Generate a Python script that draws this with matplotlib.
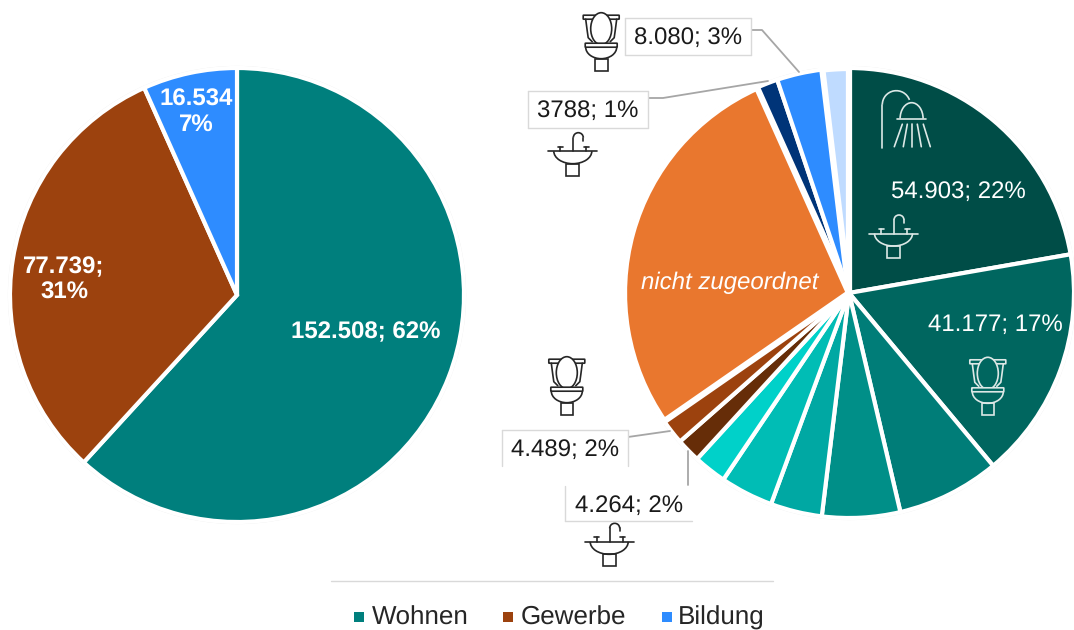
import matplotlib
matplotlib.use('Agg')
import numpy as np
import matplotlib.pyplot as plt
from matplotlib.patches import Arc, Circle, Ellipse, Rectangle, FancyBboxPatch

plt.rcParams['font.family'] = ['Liberation Sans', 'DejaVu Sans']
plt.rcParams['text.hinting'] = 'no_hinting'
plt.rcParams['text.hinting_factor'] = 1

left_values = [152508, 77739, 16534]
left_colors = ['#007F7D', '#9C420E', '#2E8CFF']

right_values = [54903, 41177, 18260, 13820, 9130, 9380, 5838, 4264, 4489, 68986, 3788, 8080, 4666]
right_colors = ['#004D47', '#00665F', '#007D78', '#008F88', '#00A8A3', '#00BDB5', '#00D1C9',
                '#662D08', '#9C420E', '#E9772E', '#003478', '#2E8CFF', '#BFDBFF']

legend_labels = ['Wohnen', 'Gewerbe', 'Bildung']
legend_colors = ['#007F7D', '#9C420E', '#2E8CFF']

W, H = 1074, 630
FS = 17.6
GREY = '#A6A6A6'
BORDER = '#D9D9D9'
RING = '#ECECEC'
DARK = '#262626'
LIGHT = '#DCE8E6'

fig = plt.figure(figsize=(W / 100, H / 100), dpi=100)
ax = fig.add_axes([0, 0, 1, 1])


def fy(y):
    # picture rows run downwards, the axes upwards
    return H - y


ax.add_patch(Circle((237, fy(295)), 228.5, fc='white', ec=RING, lw=0.9, zorder=0))
ax.add_patch(Circle((849, fy(293)), 226.5, fc='white', ec=RING, lw=0.9, zorder=0))

ax.pie(left_values, colors=left_colors, startangle=90, counterclock=False, frame=True,
       center=(237, fy(295)), radius=227, wedgeprops=dict(edgecolor='white', linewidth=3))
wedges, _ = ax.pie(right_values, colors=right_colors, startangle=90, counterclock=False, frame=True,
                   center=(849, fy(293)), radius=225, wedgeprops=dict(edgecolor='white', linewidth=3))
# the gaps round the orange and the palest slice are wider
wedges[9].set_linewidth(4.5)
wedges[9].set_zorder(2)
wedges[12].set_linewidth(4.5)
wedges[12].set_zorder(2)
ax.set_xlim(0, W)
ax.set_ylim(0, H)
ax.set_aspect('equal')
ax.axis('off')


def line(xs, ys, color=DARK, lw=1.2, z=5):
    ax.plot(xs, [fy(v) for v in ys], color=color, lw=lw, zorder=z, solid_capstyle='round')


def toilet(x, y, color=DARK, bg='white'):
    cx = x + 18.5
    ax.add_patch(FancyBboxPatch((x + 1, fy(y + 6)), 35, 3, boxstyle='round,pad=0.5', fc='none', ec=color, lw=1.2, zorder=5))
    for s in (-1, 1):
        line([cx + s * 15.5, cx + s * 14, cx + s * 13, cx + s * 9], [y + 6.5, y + 18, y + 25, y + 29], color)
    ax.add_patch(Ellipse((cx, fy(y + 16)), 21, 32, fc=bg, ec=color, lw=1.2, zorder=5.1))
    ax.add_patch(FancyBboxPatch((x + 3, fy(y + 34)), 31, 3, boxstyle='round,pad=0.5', fc=bg, ec=color, lw=1.2, zorder=5.2))
    ax.add_patch(Arc((cx, fy(y + 34.5)), 31, 23, theta1=180, theta2=360, ec=color, lw=1.2, zorder=5))
    ax.add_patch(Rectangle((x + 12.5, fy(y + 58)), 12.5, 12, fc='none', ec=color, lw=1.2, zorder=5))


def sink(x, y, color=DARK):
    line([x, x + 49], [y + 19.5, y + 19.5], color)
    line([x + 25, x + 25], [y + 19.5, y + 6], color)
    ax.add_patch(Arc((x + 30, fy(y + 6)), 10, 10, theta1=0, theta2=180, ec=color, lw=1.2, zorder=5))
    line([x + 35, x + 35], [y + 6, y + 9], color)
    for hx in (x + 12, x + 38):
        line([hx, hx], [y + 19.5, y + 15], color)
        line([hx - 2.5, hx + 2.5], [y + 15, y + 15], color)
    ax.add_patch(Arc((x + 24.5, fy(y + 19.5)), 38, 25, theta1=180, theta2=360, ec=color, lw=1.2, zorder=5))
    ax.add_patch(Rectangle((x + 18, fy(y + 44)), 13, 12, fc='none', ec=color, lw=1.2, zorder=5))


def shower(x, y, color=LIGHT):
    line([x, x], [y + 57, y + 14], color)
    ax.add_patch(Arc((x + 14, fy(y + 14)), 28, 28, theta1=20, theta2=180, ec=color, lw=1.2, zorder=5))
    ax.add_patch(Arc((x + 29.3, fy(y + 28)), 23, 32, theta1=0, theta2=180, ec=color, lw=1.2, zorder=5))
    line([x + 15, x + 44], [y + 28, y + 28], color)
    for x0, x1 in [(20, 12), (25, 21), (30, 30), (35, 39), (41, 48)]:
        line([x + x0, x + x1], [y + 33.5, y + 56], color)


toilet(582.7, 12.7)
sink(548.3, 131.7)
toilet(548.3, 356.7)
sink(584.7, 522.3)
shower(882.3, 90.7)
sink(869, 214, LIGHT)
toilet(969.3, 357.3, LIGHT, '#00665F')


def box(x0, y0, x1, y1, sides='lrtb'):
    ax.add_patch(Rectangle((x0, fy(y1)), x1 - x0, y1 - y0, fc='white', ec='none', zorder=6))
    if 'l' in sides:
        line([x0, x0], [y0, y1], BORDER, 1, 7)
    if 'r' in sides:
        line([x1, x1], [y0, y1], BORDER, 1, 7)
    if 't' in sides:
        line([x0, x1], [y0, y0], BORDER, 1, 7)
    if 'b' in sides:
        line([x0, x1], [y1, y1], BORDER, 1, 7)


# leader lines
line([751, 762, 799], [30, 30, 72], GREY, 1.3, 4)
line([648, 663, 768], [98, 98, 81], GREY, 1.3, 4)
line([628, 670], [437, 431], GREY, 1.3, 4)
line([688, 688], [451, 485], GREY, 1.3, 4)

box(625, 18, 751, 55)
box(528, 91, 648, 128)
box(502, 430, 628, 466, 'lrt')
box(565, 486, 692, 521, 'lb')


def label(x, y, s, color='#1A1A1A', weight='normal', style='normal', size=FS):
    ax.text(x, fy(y), s, color=color, fontsize=size, fontweight=weight, fontstyle=style,
            ha='center', va='center', zorder=8, linespacing=1.18)


label(688, 38, '8.080; 3%')
label(588, 111, '3788; 1%')
label(565, 450, '4.489; 2%')
label(629, 506, '4.264; 2%')
label(366, 332.5, '152.508; 62%', 'white', 'bold')
label(64, 280, '77.739;\n31%', 'white', 'bold')
label(196, 112, '16.534\n7%', 'white', 'bold')
label(958, 192, '54.903; 22%', 'white')
label(995, 325, '41.177; 17%', 'white')
label(730, 283, 'nicht zugeordnet', 'white', style='italic')

# only the top edge of the legend frame is visible
line([331, 773], [581, 581], BORDER, 1, 7)
legend_square_x = [354, 503, 661.5]
legend_text_x = [372, 521, 678]
for i in range(3):
    ax.add_patch(Rectangle((legend_square_x[i], fy(622)), 10, 10, fc=legend_colors[i], ec='none', zorder=8))
    ax.text(legend_text_x[i], fy(625), legend_labels[i], color='#262626', fontsize=18.5,
            ha='left', va='baseline', zorder=8)

fig.savefig('out.png', dpi=100)
